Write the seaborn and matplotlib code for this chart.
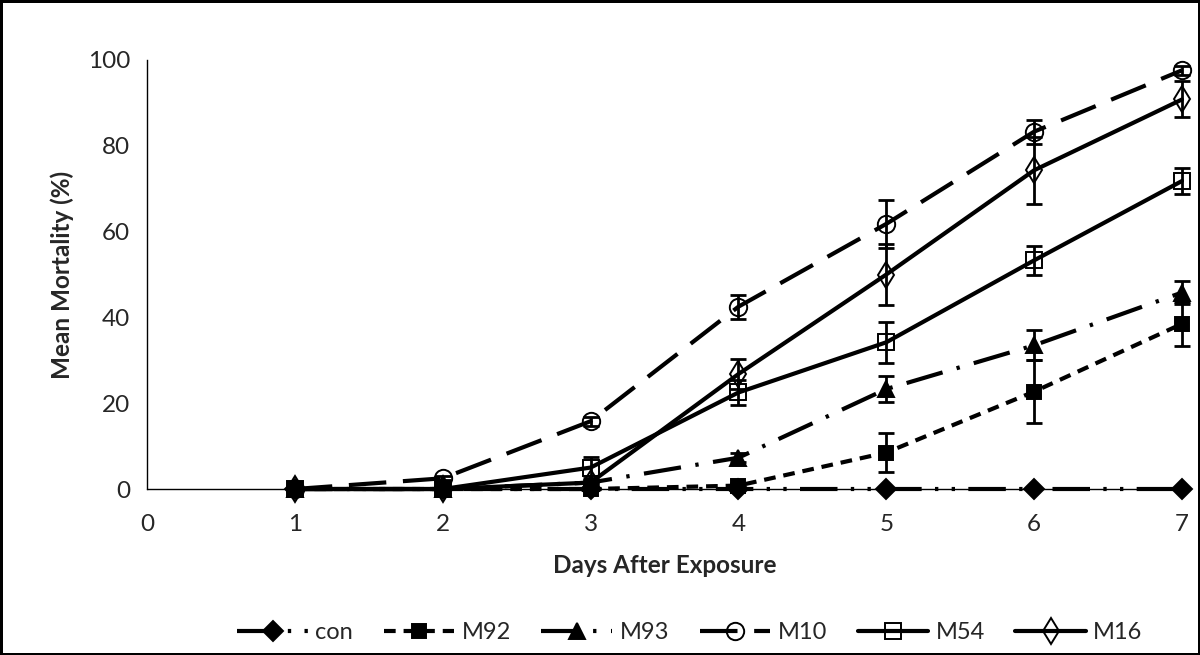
import matplotlib
matplotlib.use("Agg")
import matplotlib.pyplot as plt
import seaborn as sns
import pandas as pd
import numpy as np

days = [1, 2, 3, 4, 5, 6, 7]
series_names = ["con", "M92", "M93", "M10", "M54", "M16"]

con = [0, 0, 0, 0, 0, 0, 0]
m92 = [0, 0, 0, 0.8, 8.5, 22.7, 38.5]
m93 = [0, 0, 1.5, 7.3, 23.3, 33.5, 45.8]
m10 = [0, 2.5, 15.8, 42.5, 61.8, 83.3, 97.6]
m54 = [0, 0, 5.0, 22.5, 34.2, 53.3, 71.8]
m16 = [0, 0, 1.5, 26.8, 50.0, 74.3, 90.8]

con_err = [0, 0, 0, 0, 0, 0, 0]
m92_err = [0, 0, 0, 0.5, 4.5, 7.3, 5.2]
m93_err = [0, 0, 0.5, 1.0, 3.0, 3.5, 2.6]
m10_err = [0, 0.5, 1.0, 2.8, 5.6, 2.8, 1.0]
m54_err = [0, 0, 2.5, 3.0, 4.8, 3.3, 3.0]
m16_err = [0, 0, 0.5, 3.4, 7.2, 7.8, 4.2]

x_ticks = [0, 1, 2, 3, 4, 5, 6, 7]
y_ticks = [0, 20, 40, 60, 80, 100]

values = [con, m92, m93, m10, m54, m16]
errors = [con_err, m92_err, m93_err, m10_err, m54_err, m16_err]

styles = {
    "con": dict(marker="D", mfc="black", ms=10, ls=(0, (9, 3.2, 0.8, 3.2, 0.8, 3.2))),
    "M92": dict(marker="s", mfc="black", ms=10.5, ls=(0, (2.8, 1.9))),
    "M93": dict(marker="^", mfc="black", ms=12, ls=(0, (9, 3.5, 0.8, 3.5))),
    "M10": dict(marker="o", mfc="none", ms=12.5, ls=(0, (9, 4))),
    "M54": dict(marker="s", mfc="none", ms=12, ls="-"),
    "M16": dict(marker="d", mfc="none", ms=13, ls="-"),
}

sns.set_theme(style="white")
plt.rcParams["font.family"] = ["Lato", "DejaVu Sans"]

fig = plt.figure(figsize=(12, 6.55), dpi=100)
ax = fig.add_axes([0.1225, 0.2534, 0.985 - 0.1225, 0.9084 - 0.2534])

# x axis line at y=0 (thin)
ax.axhline(0, color="black", lw=1.0, zorder=1, clip_on=False)

handles = []
for name, vals, errs in zip(series_names, values, errors):
    st = styles[name]
    df = pd.DataFrame({"day": days, "val": vals})
    sns.lineplot(data=df, x="day", y="val", ax=ax, color="black", lw=3.0,
                 linestyle=st["ls"], marker=st["marker"], markersize=st["ms"],
                 markerfacecolor=st["mfc"], markeredgecolor="black",
                 markeredgewidth=1.4, zorder=3, clip_on=False)
    handles.append(ax.lines[-1])
    eb = ax.errorbar(days, vals, yerr=errs, fmt="none", ecolor="black",
                     elinewidth=2.0, capsize=6, capthick=2.0, zorder=4)
    for art in eb.lines[1]:
        art.set_clip_on(False)
    for art in eb.lines[2]:
        art.set_clip_on(False)

ax.set_xlim(0, 7)
ax.set_ylim(0, 100)
ax.set_xticks(x_ticks)
ax.set_yticks(y_ticks)
ax.tick_params(axis="y", direction="out", length=6, width=1, color="black",
               labelsize=17.5, pad=6)
ax.tick_params(axis="x", length=0, labelsize=17.5, pad=18)
for s in ["top", "right"]:
    ax.spines[s].set_visible(False)
ax.spines["bottom"].set_visible(False)
ax.spines["left"].set_color("black")
ax.spines["left"].set_linewidth(1.0)
ax.grid(False)
ax.set_xlabel("Days After Exposure", fontsize=17.5, fontweight="bold", labelpad=14)
ax.set_ylabel("Mean Mortality (%)", fontsize=17.5, fontweight="bold", labelpad=10)

leg = fig.legend(handles, series_names, loc="center", bbox_to_anchor=(0.575, 0.034),
                 ncol=6, frameon=False, fontsize=17, handlelength=3.0,
                 columnspacing=1.3, handletextpad=0.3)

fig.patch.set_edgecolor("black")
fig.patch.set_linewidth(2.5)
fig.savefig("out.png", dpi=100, facecolor="white", edgecolor="black")
